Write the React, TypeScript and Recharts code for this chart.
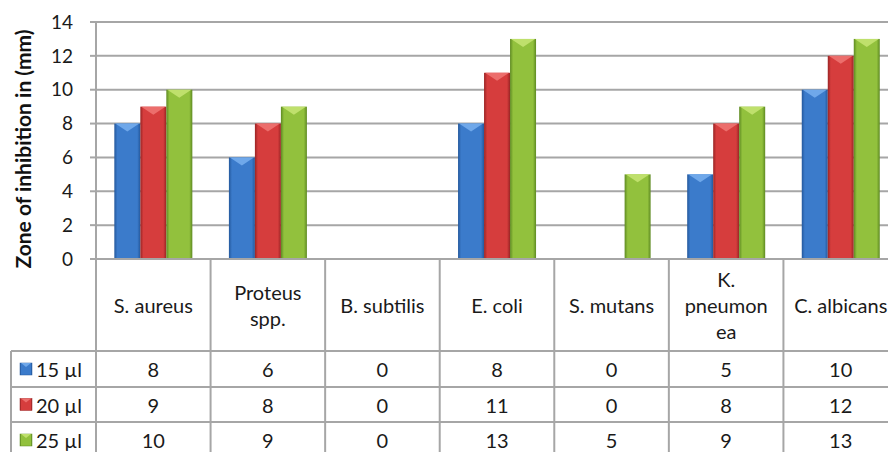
import { BarChart, Bar, XAxis, YAxis, CartesianGrid } from "recharts"

const categories = ["S. aureus", "Proteus spp.", "B. subtilis", "E. coli", "S. mutans", "K. pneumonea", "C. albicans"]
const categoryLines = [["S. aureus"], ["Proteus", "spp."], ["B. subtilis"], ["E. coli"], ["S. mutans"], ["K.", "pneumon", "ea"], ["C. albicans"]]
const ul15 = [8, 6, 0, 8, 0, 5, 10]
const ul20 = [9, 8, 0, 11, 0, 8, 12]
const ul25 = [10, 9, 0, 13, 5, 9, 13]
const seriesNames = ["15 µl", "20 µl", "25 µl"]
const yTicks = [0, 2, 4, 6, 8, 10, 12, 14]

const data = categories.map((name, i) => ({ name, s15: ul15[i], s20: ul20[i], s25: ul25[i] }))

const series = [
  { key: "s15", id: "blue", base: "#3b7bcb", dark: "#24589c", light: "#6fa8ea", values: ul15 },
  { key: "s20", id: "red", base: "#d63d3d", dark: "#992424", light: "#ec6e6c", values: ul20 },
  { key: "s25", id: "green", base: "#92c13d", dark: "#5e8a22", light: "#bfe06c", values: ul25 },
]

const FONT = "Lato, 'Open Sans', sans-serif"
const W = 900
const H = 452
const PLOT_LEFT = 96
const PLOT_TOP = 22
const AXIS_Y = 259
const PLOT_W = W - 2 - PLOT_LEFT
const ROWS = [351, 387, 422, 458]
const GRID = "#a6a6a6"
const TXT = 20

const bevel = (s: any) => (props: any) => {
  const { x, y, width, height } = props
  if (!height || height <= 0) return <g />
  const tip = Math.min(8, height)
  return (
    <g>
      <rect x={x} y={y} width={width} height={height} fill={`url(#grad-${s.id})`} />
      <polygon points={`${x + 1},${y} ${x + width - 1},${y} ${x + width / 2},${y + tip}`} fill={s.light} />
      <line x1={x} y1={y + height} x2={x + width} y2={y + height} stroke={s.dark} strokeWidth={2} />
    </g>
  )
}

const TableTick = (props: any) => {
  const { x, payload } = props
  const i = payload.index
  const bw = PLOT_W / categories.length
  const lines = categoryLines[i]
  const lh = 26
  const cy = (AXIS_Y + ROWS[0]) / 2
  const y0 = cy - ((lines.length - 1) * lh) / 2
  return (
    <g fontFamily={FONT} fontSize={TXT} fill="#1a1a1a">
      <line x1={x + bw / 2} y1={AXIS_Y} x2={x + bw / 2} y2={H} stroke={GRID} strokeWidth={2} />
      {i === 0 && (
        <g>
          <line x1={PLOT_LEFT} y1={PLOT_TOP} x2={PLOT_LEFT} y2={H} stroke={GRID} strokeWidth={2} />
          <line x1={11} y1={ROWS[0]} x2={11} y2={H} stroke={GRID} strokeWidth={2} />
          {ROWS.slice(0, 3).map((ry) => (
            <line key={ry} x1={11} y1={ry} x2={W} y2={ry} stroke={GRID} strokeWidth={2} />
          ))}
          {series.map((s, r) => {
            const my = (ROWS[r] + ROWS[r + 1]) / 2
            return (
              <g key={s.key}>
                <rect x={20} y={my - 6} width={12} height={12} fill={`url(#grad-${s.id})`} stroke={s.dark} strokeWidth={0.5} />
                <polygon points={`${21},${my - 6} ${31},${my - 6} ${26},${my - 2}`} fill={s.light} />
                <text x={36} y={my} dominantBaseline="central">
                  {seriesNames[r]}
                </text>
              </g>
            )
          })}
        </g>
      )}
      {lines.map((t, k) => (
        <text key={k} x={x} y={y0 + k * lh} textAnchor="middle" dominantBaseline="central">
          {t}
        </text>
      ))}
      {series.map((s, r) => (
        <text key={s.key} x={x} y={(ROWS[r] + ROWS[r + 1]) / 2} textAnchor="middle" dominantBaseline="central">
          {s.values[i]}
        </text>
      ))}
    </g>
  )
}

export default function App() {
  return (
    <div style={{ position: "absolute", left: 0, top: 0, background: "#fff" }}>
      <BarChart
        width={W}
        height={H}
        data={data}
        margin={{ top: PLOT_TOP, right: 2, left: 10, bottom: 0 }}
        barCategoryGap="16%"
        barGap={0}
      >
        <defs>
          {series.map((s) => (
            <linearGradient key={s.id} id={`grad-${s.id}`} x1="0" y1="0" x2="1" y2="0">
              <stop offset="0%" stopColor={s.dark} />
              <stop offset="12%" stopColor={s.base} />
              <stop offset="50%" stopColor={s.base} />
              <stop offset="88%" stopColor={s.base} />
              <stop offset="100%" stopColor={s.dark} />
            </linearGradient>
          ))}
        </defs>
        <CartesianGrid vertical={false} stroke={GRID} strokeWidth={2} />
        <YAxis
          width={86}
          domain={[0, 14]}
          ticks={yTicks}
          interval={0}
          axisLine={{ stroke: GRID, strokeWidth: 2 }}
          tickLine={{ stroke: GRID, strokeWidth: 2 }}
          tickSize={6}
          tickMargin={17}
          tick={{ fontFamily: FONT, fontSize: 19, fill: "#1a1a1a" }}
          label={{
            content: () => (
              <text
                x={22}
                y={149}
                transform="rotate(-90 22 149)"
                textAnchor="middle"
                dominantBaseline="central"
                fontFamily={FONT}
                fontSize={21}
                fontWeight="bold"
                fill="#111"
              >
                Zone of inhibition in (mm)
              </text>
            ),
          }}
        />
        <XAxis
          dataKey="name"
          height={H - AXIS_Y}
          interval={0}
          tickLine={false}
          tickSize={0}
          tickMargin={0}
          axisLine={{ stroke: GRID, strokeWidth: 2 }}
          tick={<TableTick />}
        />
        {series.map((s) => (
          <Bar key={s.key} dataKey={s.key} shape={bevel(s)} isAnimationActive={false} />
        ))}
      </BarChart>
    </div>
  )
}
